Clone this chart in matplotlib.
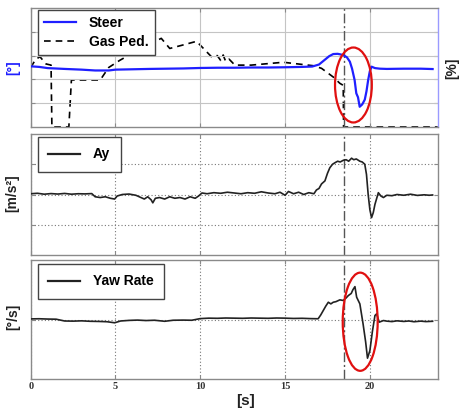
import matplotlib
matplotlib.use("Agg")
import matplotlib.pyplot as plt
from matplotlib.lines import Line2D
from matplotlib.patches import Ellipse

# ---------------- data ----------------
steer_t = [0, 0.5, 1, 2, 3, 3.8, 4.6, 5.0, 6, 7, 8, 9, 10, 11, 12, 13, 14, 15, 16, 16.6,
           17.0, 17.3, 17.6, 17.84, 18.1, 18.43, 18.65, 18.82, 18.95, 19.1, 19.2, 19.3, 19.4,
           19.55, 19.7, 19.8, 19.9, 20.0, 20.1, 20.3, 20.6, 21, 22, 23, 23.7]
steer_v = [1, 0.5, -0.5, -1.2, -1.8, -2.5, -2.5, -1.8, -1.5, -1.2, -1.0, -0.8, -0.4, -0.2, -0.2, 0, 0, 0.2, 0.5, 0.8,
           2.5, 6, 9.5, 11.3, 11.5, 10.5, 8.5, 4.9, -1, -10.5, -21.7, -25, -33,
           -31, -27, -20, -10.5, -3, 0.7, -0.5, -1.0, -1.2, -1.0, -1.0, -1.3]

gas_t = [0, 0.3, 0.55, 0.9, 1.2, 1.25, 2.25, 2.4, 4.1, 4.6, 5.25, 6.5, 7.7, 8.2, 9.0, 9.78,
         10.66, 11.0, 11.2, 11.35, 11.5, 11.7, 12.04, 13, 14.9, 16.66, 17.15, 17.84, 18.23,
         18.43, 18.45, 24]
gas_v = [50, 57, 59, 53, 52, 0, 0, 39.5, 39.5, 50, 56, 66, 74.5, 66, 69, 72,
         59, 60, 56, 60.5, 55, 57, 52, 52, 54.4, 51.5, 49.3, 42, 36.7,
         35, 0, 0]

ay_t = [0, 0.4, 0.8, 1.2, 1.6, 2.0, 2.4, 2.8, 3.2, 3.6, 3.8, 4.1, 4.4, 4.7, 4.95, 5.1, 5.4, 5.8,
        6.2, 6.5, 6.7, 6.9, 7.1, 7.2, 7.35, 7.6, 7.9, 8.2, 8.5, 8.8, 9.1, 9.4, 9.7, 9.9, 10.1,
        10.4, 10.8, 11.2, 11.6, 12.0, 12.4, 12.8, 13.2, 13.6, 14.0, 14.4, 14.7, 15.0, 15.2,
        15.5, 15.8, 16.1, 16.4, 16.7, 16.85, 17.0, 17.15, 17.35, 17.5, 17.64, 17.8, 17.94,
        18.1, 18.25, 18.43, 18.6, 18.75, 18.92, 19.05, 19.2, 19.41, 19.55, 19.7, 19.8, 19.9,
        20.0, 20.1, 20.2, 20.3, 20.5, 20.65, 20.8, 21.0, 21.3, 21.6, 22.0, 22.4, 22.8, 23.2,
        23.5, 23.7]
ay_v = [0.05, 0.08, 0.02, 0.06, 0.03, 0.07, 0.02, 0.05, 0.04, 0.06, -0.15, -0.2, -0.15, -0.25, -0.3, -0.1, 0.0, 0.03,
        -0.05, -0.2, -0.3, -0.15, -0.35, -0.55, -0.25, -0.2, -0.3, -0.15, -0.25, -0.2, -0.3, -0.15, -0.25, -0.1, 0.1,
        0.05, 0.12, 0.08, 0.15, 0.1, 0.05, 0.12, 0.08, 0.18, 0.1, 0.05, 0.15, -0.05, 0.2,
        0.05, 0.15, 0.0, 0.12, 0.05, 0.3, 0.4, 0.7, 0.9, 1.4, 1.77, 2.0, 2.1,
        2.2, 2.15, 2.26, 2.3, 2.2, 2.4, 2.3, 2.35, 2.2, 2.15, 2.0, 1.33, 0.0,
        -1.0, -1.53, -1.2, -0.65, 0.12, -0.1, -0.2, -0.05, -0.08, 0.0, -0.05, 0.02, -0.06, -0.02,
        -0.05, -0.03]

yaw_t = [0, 0.5, 1.0, 1.5, 2.0, 2.5, 3.0, 3.5, 4.0, 4.5, 4.95, 5.3, 5.8, 6.3, 6.8, 7.3, 7.9,
         8.4, 9.0, 9.5, 10.0, 10.5, 11, 11.5, 12, 12.5, 13, 13.5, 14, 14.5, 15, 15.5, 16,
         16.5, 16.95, 17.1, 17.25, 17.4, 17.55, 17.7, 17.84, 18.0, 18.23, 18.43, 18.6, 18.73,
         18.9, 19.0, 19.12, 19.22, 19.41, 19.6, 19.75, 19.86, 20.0, 20.15, 20.3, 20.4, 20.55,
         20.8, 21.0, 21.3, 21.6, 22.0, 22.3, 22.6, 23.0, 23.3, 23.7]
yaw_v = [0.4, 0.5, 0.3, 0.2, -1.0, -1.1, -0.9, -1.2, -1.3, -1.5, -2.2, -1.0, -0.6, -0.4, -0.7, -0.5, -1.2,
         -0.5, -0.4, -0.5, 0.6, 0.9, 0.8, 1.0, 0.9, 0.8, 1.0, 0.9, 0.8, 1.0, 0.9, 0.7, 0.8,
         0.6, 0.5, 3, 6, 9, 11.6, 10.5, 11.6, 12, 13.2, 12.8, 14.5, 16.1,
         17.5, 20, 22.1, 15, 10.5, -3, -15, -26, -21, -8, 2.7, 3.8, -1.8,
         -0.7, -1.1, -1.4, -0.9, -1.3, -1.0, -1.5, -1.1, -1.4, -1.2]

xticks = [0, 5, 10, 15, 20]
mark_t = 18.47

# ---------------- figure ----------------
W, H = 460, 412
fig = plt.figure(figsize=(W / 100, H / 100), dpi=100)

def px_axes(left, top, right, bottom):
    return fig.add_axes([left / W, 1 - bottom / H, (right - left) / W, (bottom - top) / H])

sans = ['Liberation Sans', 'DejaVu Sans']
serif = ['Liberation Serif', 'DejaVu Serif']
spine_c = '#8a8a8a'

def style(ax, grid_ls, grid_c):
    ax.set_xlim(0, 24)
    ax.set_xticks(xticks)
    for s in ax.spines.values():
        s.set_color(spine_c)
        s.set_linewidth(1.0)
    ax.tick_params(direction='in', length=3, color=spine_c, labelleft=False,
                   labelbottom=False, top=True, right=True)
    ax.grid(True, color=grid_c, linestyle=grid_ls, linewidth=0.8)
    ax.set_axisbelow(True)
    ax.axvline(mark_t, color='#555555', lw=1.0, linestyle=(0, (7, 2, 1.5, 2)), zorder=1.5)

def make_legend(ax, handles, labels, bbox, borderpad, labelspacing=0.3):
    leg = ax.legend(handles, labels, loc='upper left', bbox_to_anchor=bbox,
                    borderaxespad=0, fancybox=False, framealpha=1, edgecolor='#444444',
                    handlelength=2.3, handletextpad=0.9, borderpad=borderpad,
                    labelspacing=labelspacing,
                    prop={'family': sans, 'weight': 'bold', 'size': 10})
    leg.get_frame().set_linewidth(1.0)
    leg.set_zorder(10)
    return leg

# ---- panel 1 ----
ax1 = px_axes(30.7, 8, 437.7, 127)
style(ax1, '-', '#c4c4c4')
ax1.set_ylim(-50, 50)
ax1.set_yticks([-30, -10, 10, 30])
ax1.tick_params(right=False)
ax1.spines['right'].set_color('#9a9aff')
ax1b = ax1.twinx()
ax1b.set_ylim(0, 100)
ax1b.set_yticks([20, 40, 60, 80])
ax1b.tick_params(direction='in', length=3, color=spine_c, labelright=False)
for s in ax1b.spines.values():
    s.set_visible(False)
l_steer, = ax1b.plot([], [], color='#1f1fff', lw=1.6)
ax1b.plot(gas_t, gas_v, color='black', lw=1.2, linestyle=(0, (4, 3)), zorder=2)
# steer drawn on twin in converted axis via transform of ax1
ax1.plot(steer_t, steer_v, color='#1f1fff', lw=1.6, zorder=3)
ax1.set_zorder(ax1b.get_zorder() + 1)
ax1.patch.set_visible(False)
ax1b.patch.set_visible(True)
ax1b.patch.set_facecolor('white')
ax1b.set_zorder(0)
ax1.add_patch(Ellipse((19.03, -14.7), 2.17, 63, fill=False, ec='#e01010', lw=1.6, zorder=4))
h_gas = Line2D([], [], color='black', lw=1.2, linestyle=(0, (4, 3)))
make_legend(ax1, [l_steer, h_gas], ['Steer', 'Gas Ped.'], (0.018, 0.983), 0.45, 0.35)

# ---- panel 2 ----
ax2 = px_axes(30.7, 134, 437.7, 255)
style(ax2, (0, (1, 2)), '#777777')
ax2.set_ylim(-4, 4)
ax2.set_yticks([-2, 0, 2])
ax2.plot(ay_t, ay_v, color='#222222', lw=1.2, zorder=3)
h_ay = Line2D([], [], color='#222222', lw=1.6)
make_legend(ax2, [h_ay], ['Ay'], (0.018, 0.975), 0.75)

# ---- panel 3 ----
ax3 = px_axes(30.7, 260, 437.7, 379)
style(ax3, (0, (1, 2)), '#777777')
ax3.set_ylim(-40, 40)
ax3.set_yticks([0])
ax3.plot(yaw_t, yaw_v, color='#222222', lw=1.2, zorder=3)
ax3.add_patch(Ellipse((19.43, -1.5), 2.06, 66, fill=False, ec='#e01010', lw=1.6, zorder=4))
h_yaw = Line2D([], [], color='#222222', lw=1.6)
make_legend(ax3, [h_yaw], ['Yaw Rate'], (0.018, 0.966), 0.75)
ax3.tick_params(labelbottom=True, pad=2, labelsize=7.5, labelcolor='#333333')
ax3.set_xticklabels([str(v) for v in xticks], family=serif, weight='bold')

# ---- labels ----
fig.text(13.5 / W, 1 - 68 / H, '[°]', rotation=90, ha='center', va='center',
         color='#1f1fff', family=sans, weight='bold', size=10)
fig.text(452 / W, 1 - 68 / H, '[%]', rotation=90, ha='center', va='center',
         color='#222222', family=sans, weight='bold', size=10)
fig.text(12.5 / W, 1 - 193 / H, '[m/s²]', rotation=90, ha='center', va='center',
         color='#222222', family=sans, weight='bold', size=10)
fig.text(13.5 / W, 1 - 317 / H, '[°/s]', rotation=90, ha='center', va='center',
         color='#222222', family=sans, weight='bold', size=10)
fig.text(246 / W, 1 - 401 / H, '[s]', ha='center', va='center',
         color='#222222', family=sans, weight='bold', size=11)

fig.savefig('out.png', dpi=100)
